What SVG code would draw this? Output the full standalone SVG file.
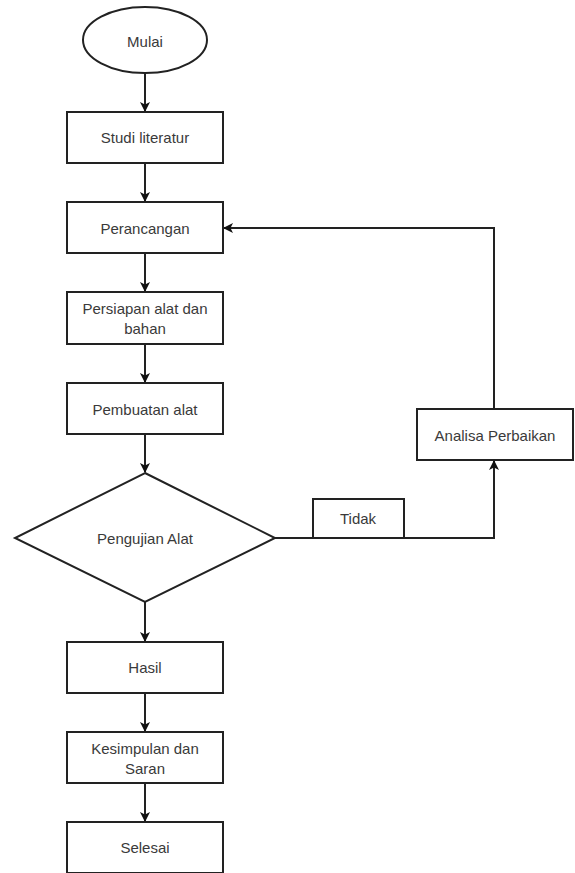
<svg xmlns="http://www.w3.org/2000/svg" width="575" height="873" viewBox="0 0 575 873">
<style>
.s{fill:#fff;stroke:#222;stroke-width:2}
.t{font-family:"Liberation Sans",Arial,sans-serif;font-size:15px;fill:#3a3a3a;text-anchor:middle;dominant-baseline:central}
.c{fill:none;stroke:#222;stroke-width:2}
</style>
<defs>
<marker id="a" markerWidth="10" markerHeight="10" refX="9" refY="5" orient="auto" markerUnits="userSpaceOnUse">
<path d="M0,0 L10,5 L0,10 L2.5,5 Z" fill="#111"/>
</marker>
</defs>
<rect width="575" height="873" fill="#fff"/>
<g id="connectors">
<line class="c" x1="145" y1="73" x2="145" y2="111" marker-end="url(#a)"/>
<line class="c" x1="145" y1="163" x2="145" y2="201" marker-end="url(#a)"/>
<line class="c" x1="145" y1="253" x2="145" y2="291" marker-end="url(#a)"/>
<line class="c" x1="145" y1="344" x2="145" y2="382" marker-end="url(#a)"/>
<line class="c" x1="145" y1="434" x2="145" y2="472" marker-end="url(#a)"/>
<line class="c" x1="145" y1="602" x2="145" y2="641" marker-end="url(#a)"/>
<line class="c" x1="145" y1="693" x2="145" y2="731" marker-end="url(#a)"/>
<line class="c" x1="145" y1="783" x2="145" y2="821" marker-end="url(#a)"/>
<polyline class="c" points="275,538 494,538 494,461" marker-end="url(#a)"/>
<polyline class="c" points="494,409 494,228 224,228" marker-end="url(#a)"/>
</g>
<g id="mulai"><ellipse class="s" cx="145" cy="40" rx="62" ry="33"/><text class="t" x="145" y="41">Mulai</text></g>
<g id="studi"><rect class="s" x="67" y="112" width="156" height="51"/><text class="t" x="145" y="137">Studi literatur</text></g>
<g id="perancangan"><rect class="s" x="67" y="202" width="156" height="51"/><text class="t" x="145" y="228">Perancangan</text></g>
<g id="persiapan"><rect class="s" x="67" y="292" width="156" height="52"/><text class="t" x="145" y="308">Persiapan alat dan</text><text class="t" x="145" y="328">bahan</text></g>
<g id="pembuatan"><rect class="s" x="67" y="383" width="156" height="51"/><text class="t" x="145" y="409">Pembuatan alat</text></g>
<g id="pengujian"><polygon class="s" points="145,473 275,538 145,602 15,538"/><text class="t" x="145" y="538">Pengujian Alat</text></g>
<g id="tidak"><rect class="s" x="313" y="499" width="91" height="39"/><text class="t" x="358" y="518">Tidak</text></g>
<g id="analisa"><rect class="s" x="417" y="409" width="156" height="51"/><text class="t" x="495" y="435">Analisa Perbaikan</text></g>
<g id="hasil"><rect class="s" x="67" y="642" width="156" height="51"/><text class="t" x="145" y="667">Hasil</text></g>
<g id="kesimpulan"><rect class="s" x="67" y="732" width="156" height="51"/><text class="t" x="145" y="748">Kesimpulan dan</text><text class="t" x="145" y="768">Saran</text></g>
<g id="selesai"><rect class="s" x="67" y="822" width="156" height="51"/><text class="t" x="145" y="847">Selesai</text></g>
</svg>
